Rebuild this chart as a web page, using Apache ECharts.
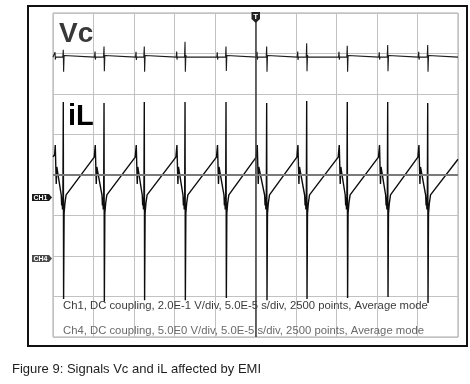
<!DOCTYPE html>
<html>
<head>
<meta charset="utf-8">
<script src="https://cdn.jsdelivr.net/npm/echarts@6/dist/echarts.min.js"></script>
<style>
html,body{margin:0;padding:0;background:#fff;}
#chart{width:470px;height:384px;}
</style>
</head>
<body>
<div id="chart"></div>
<script>
// time axis in microseconds (50 us/div), vertical axis in divisions from screen centre
var xTicks = [0, 50, 100, 150, 200, 250, 300, 350, 400, 450, 500];
var yTicks = [-4, -3, -2, -1, 0, 1, 2, 3, 4];
var triggerTime = 250;

// Vc trace (time, divisions)
var vcPoints = [
  [0,2.91],
  [1.9,2.91],[2.5,3.03],[2.9,2.85],[3.4,2.91],
  [12.1,2.91],[12.7,3.09],[13.1,2.55],[13.7,2.95],[14.3,2.91],
  [51.3,2.91],[51.9,3.05],[52.3,2.85],[52.8,2.91],
  [62.4,2.91],[63.0,3.17],[63.4,2.56],[64.0,2.95],[64.6,2.91],
  [101.9,2.91],[102.5,3.04],[102.9,2.84],[103.4,2.91],
  [112.1,2.91],[112.7,3.17],[113.1,2.55],[113.7,2.95],[114.3,2.91],
  [152.1,2.91],[152.7,3.05],[153.1,2.85],[153.6,2.91],
  [162.4,2.91],[163.0,3.29],[163.4,2.55],[164.0,2.96],[164.6,2.91],
  [202.2,2.91],[202.8,3.03],[203.2,2.85],[203.7,2.91],
  [213.0,2.91],[213.6,3.17],[214.0,2.57],[214.6,2.95],[215.2,2.91],
  [251.3,2.91],[251.9,3.04],[252.3,2.85],[252.8,2.91],
  [263.2,2.91],[263.8,3.17],[264.2,2.55],[264.8,2.95],[265.4,2.91],
  [301.5,2.91],[302.1,3.05],[302.5,2.84],[303.0,2.91],
  [312.6,2.91],[313.2,3.25],[313.6,2.56],[314.2,2.96],[314.8,2.91],
  [352.5,2.91],[353.1,3.04],[353.5,2.85],[354.0,2.91],
  [362.7,2.91],[363.3,3.19],[363.7,2.55],[364.3,2.95],[364.9,2.91],
  [402.2,2.91],[402.8,3.03],[403.2,2.85],[403.7,2.91],
  [412.6,2.91],[413.2,3.21],[413.6,2.56],[414.2,2.95],[414.8,2.91],
  [450.9,2.91],[451.5,3.04],[451.9,2.85],[452.4,2.91],
  [462.0,2.91],[462.6,3.21],[463.0,2.55],[463.6,2.95],[464.2,2.91],
  [500,2.91]
];

// iL trace (time, divisions)
var ilPoints = [
  [0,0.45],[2.0,0.5],[2.8,0.74],[4.0,-0.22],[4.7,0.2],[10.2,-0.5],[10.7,-0.75],[11.2,-0.55],[11.7,-0.85],[12.2,-0.72],[12.7,1.8],[13.1,-3.06],[13.7,-0.95],[14.7,-0.7],[16.2,-0.49],
  [50.9,0.44],[52.2,0.74],[53.4,-0.22],[54.1,0.2],[60.5,-0.5],[61.0,-0.75],[61.5,-0.55],[62.0,-0.85],[62.5,-0.72],[63.0,1.78],[63.4,-3.13],[64.0,-0.95],[65.0,-0.7],[66.5,-0.49],
  [101.5,0.44],[102.8,0.74],[104.0,-0.22],[104.7,0.2],[110.2,-0.5],[110.7,-0.75],[111.2,-0.55],[111.7,-0.85],[112.2,-0.72],[112.7,1.8],[113.1,-3.09],[113.7,-0.95],[114.7,-0.7],[116.2,-0.49],
  [151.7,0.44],[153.0,0.74],[154.2,-0.22],[154.9,0.2],[160.5,-0.5],[161.0,-0.75],[161.5,-0.55],[162.0,-0.85],[162.5,-0.72],[163.0,1.8],[163.4,-3.09],[164.0,-0.95],[165.0,-0.7],[166.5,-0.49],
  [201.8,0.44],[203.1,0.74],[204.3,-0.22],[205.0,0.2],[211.1,-0.5],[211.6,-0.75],[212.1,-0.55],[212.6,-0.85],[213.1,-0.72],[213.6,1.8],[214.0,-3.04],[214.6,-0.95],[215.6,-0.7],[217.1,-0.49],
  [250.9,0.44],[252.2,0.74],[253.4,-0.22],[254.1,0.2],[261.3,-0.5],[261.8,-0.75],[262.3,-0.55],[262.8,-0.85],[263.3,-0.72],[263.8,1.78],[264.2,-3.09],[264.8,-0.95],[265.8,-0.7],[267.3,-0.49],
  [301.1,0.44],[302.4,0.74],[303.6,-0.22],[304.3,0.2],[310.7,-0.5],[311.2,-0.75],[311.7,-0.55],[312.2,-0.85],[312.7,-0.72],[313.2,1.83],[313.6,-3.06],[314.2,-0.95],[315.2,-0.7],[316.7,-0.49],
  [352.1,0.44],[353.4,0.74],[354.6,-0.22],[355.3,0.2],[360.8,-0.5],[361.3,-0.75],[361.8,-0.55],[362.3,-0.85],[362.8,-0.72],[363.3,1.8],[363.7,-3.04],[364.3,-0.95],[365.3,-0.7],[366.8,-0.49],
  [401.8,0.44],[403.1,0.74],[404.3,-0.22],[405.0,0.2],[410.7,-0.5],[411.2,-0.75],[411.7,-0.55],[412.2,-0.85],[412.7,-0.72],[413.2,1.8],[413.6,-3.01],[414.2,-0.95],[415.2,-0.7],[416.7,-0.49],
  [450.5,0.44],[451.8,0.74],[453.0,-0.22],[453.7,0.2],[460.1,-0.5],[460.6,-0.75],[461.1,-0.55],[461.6,-0.85],[462.1,-0.72],[462.6,1.78],[463.0,-3.16],[463.6,-0.95],[464.6,-0.7],[466.1,-0.49],
  [500,0.39]
];

var traceLabels = ['Vc', 'iL'];
var channelLabels = ['CH1', 'CH4'];
var infoLines = [
  'Ch1, DC coupling, 2.0E-1 V/div, 5.0E-5 s/div, 2500 points, Average mode',
  'Ch4, DC coupling, 5.0E0 V/div, 5.0E-5 s/div, 2500 points, Average mode'
];
var caption = 'Figure 9: Signals Vc and iL affected by EMI';

var chart = echarts.init(document.getElementById('chart'), null, {renderer: 'canvas'});
var font = '"Liberation Sans", Arial, sans-serif';

var option = {
  animation: false,
  backgroundColor: '#ffffff',
  grid: {left: 53, top: 13, width: 405, height: 324, show: true, borderColor: '#a8a8a8', borderWidth: 1},
  xAxis: {
    type: 'value', min: xTicks[0], max: xTicks[xTicks.length - 1], interval: xTicks[1] - xTicks[0],
    axisLine: {show: false}, axisTick: {show: false}, axisLabel: {show: false},
    splitLine: {lineStyle: {color: '#c2c2c2', width: 1}}
  },
  yAxis: {
    type: 'value', min: yTicks[0], max: yTicks[yTicks.length - 1], interval: yTicks[1] - yTicks[0],
    axisLine: {show: false}, axisTick: {show: false}, axisLabel: {show: false},
    splitLine: {lineStyle: {color: '#c2c2c2', width: 1}}
  },
  series: [
    {
      type: 'line', data: [], z: 1, silent: true,
      markLine: {
        silent: true, symbol: 'none', label: {show: false},
        data: [
          {xAxis: triggerTime, lineStyle: {color: '#3a3a3a', width: 1.5, type: 'solid'}},
          {yAxis: 0, lineStyle: {color: '#7a7a7a', width: 2, type: 'solid'}}
        ]
      }
    },
    {
      name: traceLabels[0], type: 'line', data: vcPoints, z: 3, symbol: 'none',
      lineStyle: {color: '#1c1c1c', width: 1.1}
    },
    {
      name: traceLabels[1], type: 'line', data: ilPoints, z: 3, symbol: 'none',
      lineStyle: {color: '#0d0d0d', width: 1.4}
    }
  ],
  graphic: [
    {type: 'rect', shape: {x: 28, y: 6, width: 439, height: 340}, style: {fill: 'none', stroke: '#111', lineWidth: 2}, z: 10},
    {type: 'text', x: 59, y: 34, style: {text: traceLabels[0], font: 'bold 28px ' + font, fill: '#383838', verticalAlign: 'middle'}, z: 10},
    {type: 'text', x: 68, y: 117, style: {text: traceLabels[1], font: 'bold 29px ' + font, fill: '#000', verticalAlign: 'middle'}, z: 10},
    {type: 'polygon', shape: {points: [[32,194],[49,194],[52,197.5],[49,201],[32,201]]}, style: {fill: '#1a1a1a'}, z: 10},
    {type: 'text', x: 40.5, y: 197.8, style: {text: channelLabels[0], font: 'bold 7px ' + font, fill: '#fff', align: 'center', verticalAlign: 'middle'}, z: 11},
    {type: 'polygon', shape: {points: [[32,255],[49,255],[52,258.5],[49,262],[32,262]]}, style: {fill: '#4a4a4a'}, z: 10},
    {type: 'text', x: 40.5, y: 258.8, style: {text: channelLabels[1], font: 'bold 7px ' + font, fill: '#fff', align: 'center', verticalAlign: 'middle'}, z: 11},
    {type: 'polygon', shape: {points: [[251.5,12],[260,12],[260,19],[255.7,23],[251.5,19]]}, style: {fill: '#222'}, z: 10},
    {type: 'text', x: 255.8, y: 16.5, style: {text: 'T', font: 'bold 8px ' + font, fill: '#fff', align: 'center', verticalAlign: 'middle'}, z: 11},
    {type: 'text', x: 63, y: 305.5, style: {text: infoLines[0], font: '11.3px ' + font, fill: '#3c3c3c', verticalAlign: 'middle'}, z: 10},
    {type: 'text', x: 63, y: 330.5, style: {text: infoLines[1], font: '11.3px ' + font, fill: '#6a6a6a', verticalAlign: 'middle'}, z: 10},
    {type: 'text', x: 12, y: 369, style: {text: caption, font: '13px ' + font, fill: '#1e1e1e', verticalAlign: 'middle'}, z: 10}
  ]
};
chart.setOption(option);
</script>
</body>
</html>
